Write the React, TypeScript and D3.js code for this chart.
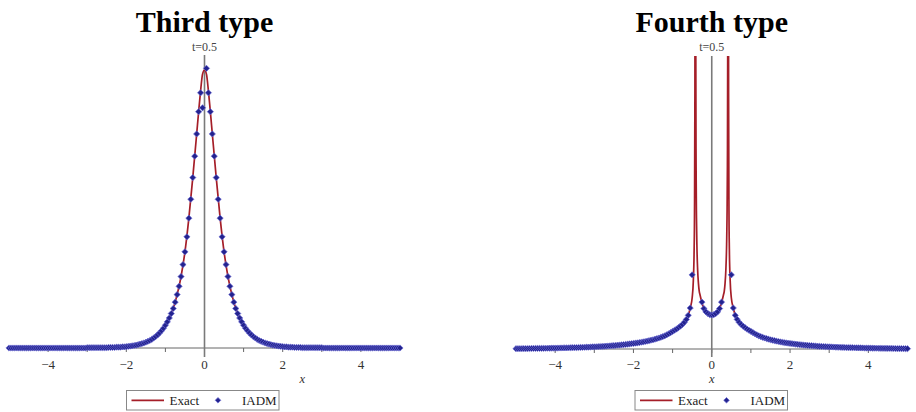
import React from "react";
import * as d3 from "d3";

// ---------- data ----------
const gridStart = -5;
const gridStep = 0.05;

// Third type: exact solution (knots)
const thirdExactX = [-5, -4, -3, -2.5, -2, -1.8, -1.6, -1.4, -1.2, -1, -0.9, -0.8, -0.7, -0.6, -0.5, -0.4, -0.3, -0.2, -0.15, -0.1, -0.05, 0,
  0.05, 0.1, 0.15, 0.2, 0.3, 0.4, 0.5, 0.6, 0.7, 0.8, 0.9, 1, 1.2, 1.4, 1.6, 1.8, 2, 2.5, 3, 4, 5];
const thirdExactY = [0, 0, 0.001, 0.001, 0.005, 0.009, 0.016, 0.027, 0.047, 0.082, 0.108, 0.142, 0.192, 0.257, 0.346, 0.467, 0.613, 0.77, 0.85, 0.925, 0.985, 1.0,
  0.985, 0.925, 0.85, 0.77, 0.613, 0.467, 0.346, 0.257, 0.192, 0.142, 0.108, 0.082, 0.047, 0.027, 0.016, 0.009, 0.005, 0.001, 0.001, 0, 0];

// Third type: IADM values on the grid x = -5, -4.95, ..., 5
const thirdIadmY: (number | null)[] = [
  0, 0, 0, 0, 0, 0, 0, 0, 0, 0, 0, 0, 0, 0, 0, 0, 0, 0, 0, 0,
  0, 0, 0, 0, 0, 0, 0, 0, 0, 0, 0, 0, 0, 0, 0, 0, 0, 0, 0, 0,
  0.001, 0.001, 0.001, 0.001, 0.001, 0.001, 0.001, 0.001, 0.001, 0.001, 0.001, 0.002, 0.002, 0.002, 0.002, 0.003, 0.003, 0.003, 0.004, 0.004,
  0.005, 0.006, 0.007, 0.008, 0.009, 0.01, 0.012, 0.014, 0.016, 0.018, 0.021, 0.024, 0.027, 0.031, 0.036, 0.041, 0.047, 0.054, 0.062, 0.071,
  0.082, 0.094, 0.108, 0.124, 0.142, 0.165, 0.192, 0.222, 0.257, 0.3, 0.346, 0.4, 0.467, 0.535, 0.613, 0.69, 0.77, 0.85, 0.918, 0.864,
  null,
  1.006, 0.918, 0.85, 0.77, 0.69, 0.613, 0.535, 0.467, 0.4, 0.346, 0.3, 0.257, 0.222, 0.192, 0.165, 0.142, 0.124, 0.108, 0.094, 0.082,
  0.071, 0.062, 0.054, 0.047, 0.041, 0.036, 0.031, 0.027, 0.024, 0.021, 0.018, 0.016, 0.014, 0.012, 0.01, 0.009, 0.008, 0.007, 0.006, 0.005,
  0.004, 0.004, 0.003, 0.003, 0.003, 0.002, 0.002, 0.002, 0.002, 0.001, 0.001, 0.001, 0.001, 0.001, 0.001, 0.001, 0.001, 0.001, 0.001, 0.001,
  0, 0, 0, 0, 0, 0, 0, 0, 0, 0, 0, 0, 0, 0, 0, 0, 0, 0, 0, 0,
  0, 0, 0, 0, 0, 0, 0, 0, 0, 0, 0, 0, 0, 0, 0, 0, 0, 0, 0, 0,
];

// Fourth type: exact solution (three branches, null = singularity break)
const fourthExactX = [
  -5, -4.5, -4, -3.5, -3, -2.5, -2, -1.8, -1.6, -1.4, -1.2, -1.0, -0.9, -0.8, -0.7, -0.6, -0.55, -0.5, -0.47, -0.45, -0.44, -0.43, -0.425,
  -0.42,
  -0.415, -0.41, -0.4, -0.39, -0.38, -0.36, -0.34, -0.32, -0.3, -0.25, -0.2, -0.15, -0.1, -0.05, 0,
  0.05, 0.1, 0.15, 0.2, 0.25, 0.3, 0.32, 0.34, 0.36, 0.38, 0.39, 0.4, 0.41, 0.415,
  0.42,
  0.425, 0.43, 0.44, 0.45, 0.47, 0.5, 0.55, 0.6, 0.7, 0.8, 0.9, 1.0, 1.2, 1.4, 1.6, 1.8, 2, 2.5, 3, 3.5, 4, 4.5, 5,
];
const fourthExactY: (number | null)[] = [
  0.01, 0.02, 0.031, 0.048, 0.074, 0.117, 0.19, 0.231, 0.285, 0.355, 0.45, 0.6, 0.68, 0.78, 0.91, 1.15, 1.4, 1.75, 2.35, 3.4, 4.7, 8.8, 17,
  null,
  22, 11.6, 6.26, 4.47, 3.58, 2.69, 2.24, 1.975, 1.85, 1.58, 1.38, 1.27, 1.21, 1.17, 1.16,
  1.17, 1.21, 1.27, 1.38, 1.58, 1.85, 1.975, 2.24, 2.69, 3.58, 4.47, 6.26, 11.6, 22,
  null,
  17, 8.8, 4.7, 3.4, 2.35, 1.75, 1.4, 1.15, 0.91, 0.78, 0.68, 0.6, 0.45, 0.355, 0.285, 0.231, 0.19, 0.117, 0.074, 0.048, 0.031, 0.02, 0.01,
];

// Fourth type: IADM values on the grid x = -5, -4.95, ..., 5 (null = off the chart)
const fourthIadmY: (number | null)[] = [
  0.01, 0.011, 0.012, 0.013, 0.014, 0.015, 0.016, 0.017, 0.018, 0.019, 0.02, 0.021, 0.022, 0.023, 0.024, 0.025, 0.026, 0.027, 0.028, 0.03,
  0.031, 0.032, 0.034, 0.035, 0.037, 0.038, 0.04, 0.042, 0.044, 0.046, 0.048, 0.05, 0.052, 0.054, 0.057, 0.059, 0.062, 0.065, 0.068, 0.071,
  0.074, 0.077, 0.081, 0.085, 0.089, 0.093, 0.097, 0.102, 0.107, 0.112, 0.117, 0.123, 0.129, 0.135, 0.142, 0.149, 0.156, 0.164, 0.172, 0.181,
  0.19, 0.199, 0.209, 0.22, 0.231, 0.243, 0.256, 0.27, 0.285, 0.3, 0.315, 0.335, 0.355, 0.375, 0.4, 0.425, 0.45, 0.485, 0.52, 0.56,
  0.6, 0.64, 0.68, 0.73, 0.78, 0.84, 0.91, 1.01, 1.15, 1.4, 2.53, null, null, null, null, 1.6, 1.38, 1.27, 1.21, 1.17,
  1.16,
  1.17, 1.21, 1.27, 1.38, 1.6, null, null, null, null, 2.53, 1.4, 1.15, 1.01, 0.91, 0.84, 0.78, 0.73, 0.68, 0.64, 0.6,
  0.56, 0.52, 0.485, 0.45, 0.425, 0.4, 0.375, 0.355, 0.335, 0.315, 0.3, 0.285, 0.27, 0.256, 0.243, 0.231, 0.22, 0.209, 0.199, 0.19,
  0.181, 0.172, 0.164, 0.156, 0.149, 0.142, 0.135, 0.129, 0.123, 0.117, 0.112, 0.107, 0.102, 0.097, 0.093, 0.089, 0.085, 0.081, 0.077, 0.074,
  0.071, 0.068, 0.065, 0.062, 0.059, 0.057, 0.054, 0.052, 0.05, 0.048, 0.046, 0.044, 0.042, 0.04, 0.038, 0.037, 0.035, 0.034, 0.032, 0.031,
  0.03, 0.028, 0.027, 0.026, 0.025, 0.024, 0.023, 0.022, 0.021, 0.02, 0.019, 0.018, 0.017, 0.016, 0.015, 0.014, 0.013, 0.012, 0.011, 0.01,
];

const minorTicks = [-4, -3, -2, -1, 0, 1, 2, 3, 4];
const labelTicks = [-4, -2, 0, 2, 4];
const titles = ["Third type", "Fourth type"];
const timeLabel = "t=0.5";
const legendLabels = ["Exact", "IADM"];

// ---------- styling ----------
const RED = "#a51e28";
const BLUE = "#23238f";
const BLUE_EDGE = "#6a6ad2";
const SERIF = "'Liberation Serif', 'Times New Roman', serif";

type PanelProps = {
  id: string;
  title: string;
  exactX: number[];
  exactY: (number | null)[];
  iadmY: (number | null)[];
  xRange: [number, number];
  yDomain: [number, number];
  yRange: [number, number];
  axisTop: number;
  axisBottom: number;
  titleY: number;
  xLabelData: number;
  legendX: number;
};

function fmt(v: number) {
  return v < 0 ? "\u2212" + Math.abs(v) : String(v);
}

function diamond(r: number) {
  return `M0,${-r}L${r},0L0,${r}L${-r},0Z`;
}

function Panel(p: PanelProps) {
  const x = d3.scaleLinear().domain([-5, 5]).range(p.xRange);
  const y = d3.scaleLinear().domain(p.yDomain).range(p.yRange);
  const base = y(0);
  const cx = x(0);

  const exactPts = p.exactX.map((xv, i) => ({ x: xv, y: p.exactY[i] }));
  const line = d3
    .line<{ x: number; y: number | null }>()
    .defined((d) => d.y != null)
    .x((d) => x(d.x))
    .y((d) => y(d.y as number))
    .curve(d3.curveMonotoneX);

  const iadm = p.iadmY
    .map((v, i) => ({ x: gridStart + i * gridStep, y: v }))
    .filter((d) => d.y != null) as { x: number; y: number }[];

  const lg = p.legendX;
  const lgY = 390.5;

  return (
    <g>
      <defs>
        <clipPath id={`clip-${p.id}`}>
          <rect x={p.xRange[0] - 6} y={p.axisTop} width={p.xRange[1] - p.xRange[0] + 12} height={412 - p.axisTop} />
        </clipPath>
      </defs>
      <text x={cx} y={p.titleY} textAnchor="middle" fontFamily={SERIF} fontWeight="bold" fontSize={30} fill="#000">
        {p.title}
      </text>
      <text x={cx} y={50.5} textAnchor="middle" fontFamily={SERIF} fontSize={12} fill="#444">
        {timeLabel}
      </text>
      {/* x axis */}
      <line x1={p.xRange[0]} x2={p.xRange[1]} y1={base} y2={base} stroke="#666" strokeWidth={1} />
      {minorTicks.map((t) => (
        <line key={t} x1={x(t)} x2={x(t)} y1={base} y2={base + 4} stroke="#666" strokeWidth={1} />
      ))}
      {labelTicks.map((t) => (
        <text key={t} x={x(t)} y={368.5} textAnchor="middle" fontFamily={SERIF} fontSize={13} fill="#333">
          {fmt(t)}
        </text>
      ))}
      <text x={x(p.xLabelData)} y={383} textAnchor="middle" fontFamily={SERIF} fontStyle="italic" fontSize={12.5} fill="#333">
        x
      </text>
      {/* vertical axis at x = 0 */}
      <line x1={cx} x2={cx} y1={p.axisTop} y2={p.axisBottom} stroke="#7a7a7a" strokeWidth={1.6} />
      <g clipPath={`url(#clip-${p.id})`}>
        <path d={line(exactPts) || ""} fill="none" stroke={RED} strokeWidth={1.7} />
        {iadm.map((d, i) => (
          <path
            key={i}
            d={diamond(3.1)}
            transform={`translate(${x(d.x)},${y(d.y)})`}
            fill={BLUE}
            stroke={BLUE_EDGE}
            strokeWidth={0.7}
          />
        ))}
      </g>
      {/* legend */}
      <rect x={lg} y={lgY} width={152.5} height={19.5} fill="#fff" stroke="#888" strokeWidth={1} />
      <line x1={lg + 5} x2={lg + 37.5} y1={lgY + 9.8} y2={lgY + 9.8} stroke={RED} strokeWidth={1.8} />
      <text x={lg + 43} y={lgY + 14} fontFamily={SERIF} fontSize={13} fill="#222">
        {legendLabels[0]}
      </text>
      <path d={diamond(2.8)} transform={`translate(${lg + 91.5},${lgY + 9.8})`} fill={BLUE} stroke={BLUE_EDGE} strokeWidth={0.7} />
      <text x={lg + 115.5} y={lgY + 14} fontFamily={SERIF} fontSize={13} fill="#222">
        {legendLabels[1]}
      </text>
    </g>
  );
}

export default function App() {
  return (
    <svg
      width={916}
      height={412}
      viewBox="0 0 916 412"
      style={{ position: "absolute", left: 0, top: 0, background: "#fff" }}
    >
      <rect x={0} y={0} width={916} height={412} fill="#fff" />
      <Panel
        id="third"
        title={titles[0]}
        exactX={thirdExactX}
        exactY={thirdExactY}
        iadmY={thirdIadmY}
        xRange={[9, 400]}
        yDomain={[0, 1]}
        yRange={[348, 70]}
        axisTop={55}
        axisBottom={357}
        titleY={31.5}
        xLabelData={2.5}
        legendX={126.5}
      />
      <Panel
        id="fourth"
        title={titles[1]}
        exactX={fourthExactX}
        exactY={fourthExactY}
        iadmY={fourthIadmY}
        xRange={[516, 907.5]}
        yDomain={[0, 10]}
        yRange={[349, 56]}
        axisTop={56}
        axisBottom={357}
        titleY={31.5}
        xLabelData={0}
        legendX={635}
      />
    </svg>
  );
}
